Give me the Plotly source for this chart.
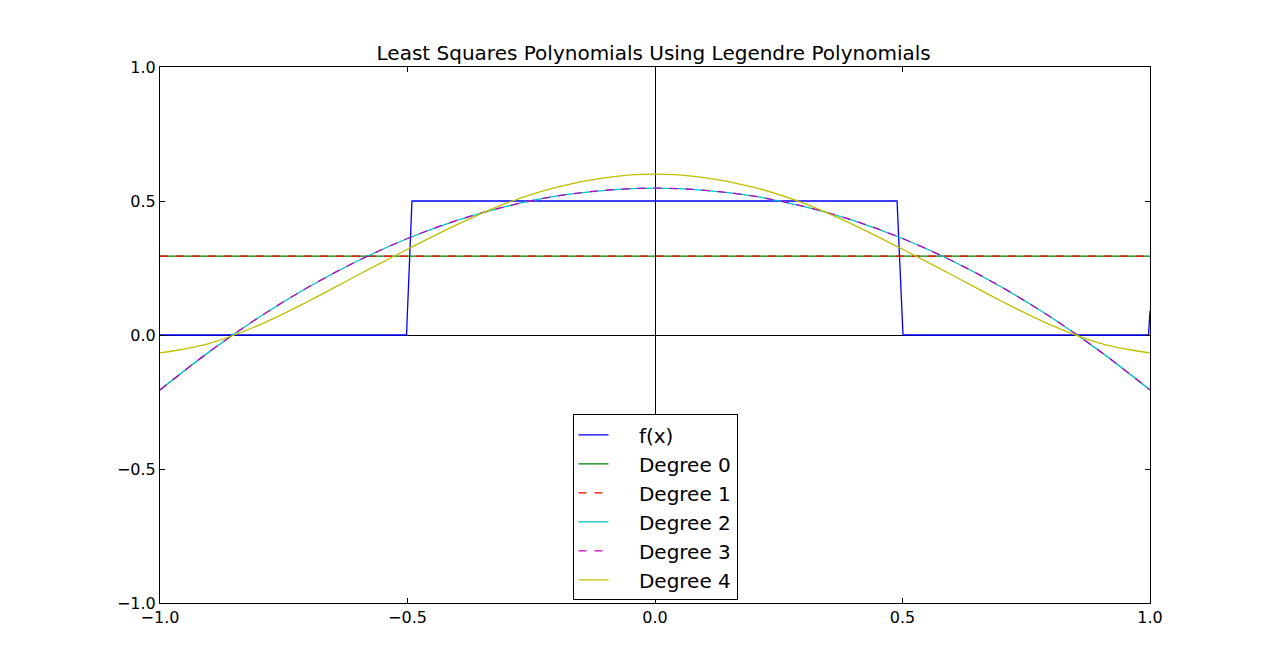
import plotly.graph_objects as go

# values
f_x = [-1.0, -0.502, -0.491, 0.489, 0.501, 0.997, 1.0]
f_y = [0.0, 0.0, 0.5, 0.5, 0.0, 0.0, 0.09]

x_ends = [-1.0, 1.0]
deg0 = [0.294, 0.294]
deg1 = [0.294, 0.294]

x_fit = [-1.0, -0.9, -0.8, -0.7, -0.6, -0.5, -0.4, -0.3, -0.2, -0.1, 0.0,
         0.1, 0.2, 0.3, 0.4, 0.5, 0.6, 0.7, 0.8, 0.9, 1.0]
deg2 = [-0.205, -0.062, 0.066, 0.179, 0.277, 0.360, 0.428, 0.480, 0.518, 0.540, 0.548,
        0.540, 0.518, 0.480, 0.428, 0.360, 0.277, 0.179, 0.066, -0.062, -0.205]
deg3 = [-0.205, -0.062, 0.066, 0.179, 0.277, 0.360, 0.428, 0.480, 0.518, 0.540, 0.548,
        0.540, 0.518, 0.480, 0.428, 0.360, 0.277, 0.179, 0.066, -0.062, -0.205]
deg4 = [-0.067, -0.031, 0.037, 0.126, 0.224, 0.320, 0.412, 0.492, 0.551, 0.587, 0.600,
        0.587, 0.551, 0.492, 0.412, 0.320, 0.224, 0.126, 0.037, -0.031, -0.067]

names = ["f(x)", "Degree 0", "Degree 1", "Degree 2", "Degree 3", "Degree 4"]
tick_vals = [-1.0, -0.5, 0.0, 0.5, 1.0]
tick_text = ["\u22121.0", "\u22120.5", "0.0", "0.5", "1.0"]

pad = "\u00a0" * 4  # gap between legend line and label, as in the reference

fig = go.Figure()
fig.add_trace(go.Scatter(x=f_x, y=f_y, mode="lines", name=pad + names[0],
                         line=dict(color="#0000ff", width=1.3)))
fig.add_trace(go.Scatter(x=x_ends, y=deg0, mode="lines", name=pad + names[1],
                         line=dict(color="#008000", width=1.3)))
fig.add_trace(go.Scatter(x=x_ends, y=deg1, mode="lines", name=pad + names[2],
                         line=dict(color="#ff0000", width=1.3, dash="8px,8px")))
fig.add_trace(go.Scatter(x=x_fit, y=deg2, mode="lines", name=pad + names[3],
                         line=dict(color="#00bfbf", width=1.3, shape="spline")))
fig.add_trace(go.Scatter(x=x_fit, y=deg3, mode="lines", name=pad + names[4],
                         line=dict(color="#bf00bf", width=1.3, dash="8px,8px", shape="spline")))
fig.add_trace(go.Scatter(x=x_fit, y=deg4, mode="lines", name=pad + names[5],
                         line=dict(color="#bfbf00", width=1.3, shape="spline")))

axis_style = dict(range=[-1, 1], tickvals=tick_vals, ticktext=tick_text,
                  showline=True, linecolor="black", linewidth=1, mirror="ticks",
                  ticks="inside", ticklen=5, tickcolor="black", showgrid=False,
                  zeroline=True, zerolinecolor="black", zerolinewidth=1,
                  tickfont=dict(family="DejaVu Sans", size=16, color="black"))

# the page body adds an 8px margin, so the figure is sized to the window minus that
fig.update_layout(
    width=1261, height=655,
    margin=dict(l=152, r=119, t=59, b=60),
    paper_bgcolor="white", plot_bgcolor="white",
    title=dict(text="Least Squares Polynomials Using Legendre Polynomials",
               x=0.512, xanchor="center", y=0.931, yanchor="middle",
               font=dict(family="DejaVu Sans", size=20, color="black")),
    xaxis=axis_style, yaxis=axis_style,
    legend=dict(x=0.5, xanchor="center", y=0.352, yanchor="top",
                bgcolor="white", bordercolor="black", borderwidth=1,
                font=dict(family="DejaVu Sans", size=20, color="black")),
    showlegend=True,
)

fig.write_html("out.html")
